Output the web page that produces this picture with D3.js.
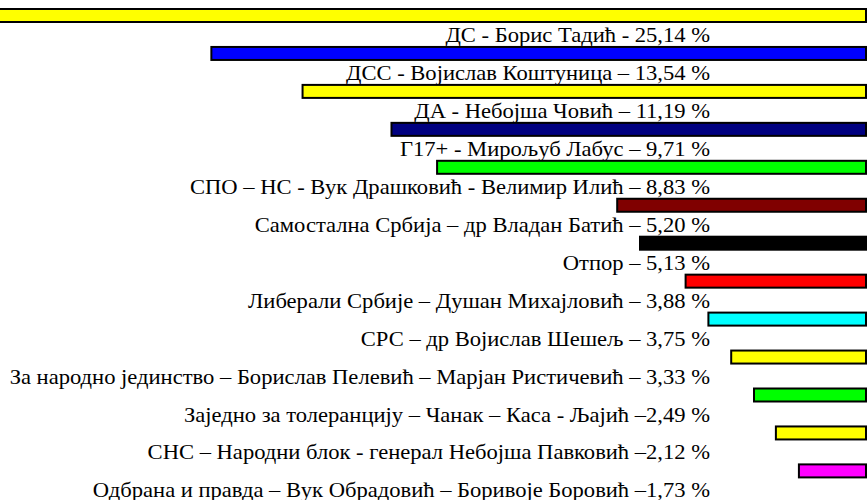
<!DOCTYPE html>
<html>
<head>
<meta charset="utf-8">
<script src="https://cdn.jsdelivr.net/npm/d3@7"></script>
<style>
  html, body { margin: 0; padding: 0; background: #fff; overflow: hidden; }
  svg { display: block; }
  text.lbl { font-family: "Liberation Serif", "DejaVu Serif", serif; }
</style>
</head>
<body>
<svg id="chart" width="867" height="500"></svg>
<script>
// Labels shown beneath each bar (the first bar's own caption lies above the visible area)
const labels = [
  "ДС - Борис Тадић - 25,14 %",
  "ДСС - Војислав Коштуница – 13,54 %",
  "ДА - Небојша Човић – 11,19 %",
  "Г17+ - Мирољуб Лабус – 9,71 %",
  "СПО – НС - Вук Драшковић - Велимир Илић – 8,83 %",
  "Самостална Србија – др Владан Батић – 5,20 %",
  "Отпор – 5,13 %",
  "Либерали Србије – Душан Михајловић – 3,88 %",
  "СРС – др Војислав Шешељ – 3,75 %",
  "За народно јединство – Борислав Пелевић – Марјан Ристичевић – 3,33 %",
  "Заједно за толеранцију – Чанак – Каса - Љајић –2,49 %",
  "СНС – Народни блок - генерал Небојша Павковић –2,12 %",
  "Одбрана и правда – Вук Обрадовић – Боривоје Боровић –1,73 %"
];
// Bar lengths (relative units)
const barLengths = [40, 28.8, 24.8, 20.9, 18.9, 11, 10, 8, 7, 6, 5, 4.04, 3.03];
const barColors = ["#ffff00", "#0000ff", "#ffff00", "#000080", "#00ff00", "#800000",
                   "#000000", "#ff0000", "#00ffff", "#ffff00", "#00ff00", "#ffff00", "#ff00ff"];

const svg = d3.select("#chart");
const rightEdge = 866;
const labelRight = 710;

const x = d3.scaleLinear().domain([0, 38]).range([0, 866.4]);
const y = d3.scalePoint().domain(d3.range(labels.length)).range([8, 463.4]);
const barH = 15;

const rows = svg.selectAll("g.row").data(labels.map((l, i) => ({label: l, len: barLengths[i], color: barColors[i], i})))
  .enter().append("g").attr("class", "row");

rows.append("rect")
  .attr("x", d => rightEdge + 1 - x(d.len) + 1)
  .attr("y", d => y(d.i) + 1)
  .attr("width", d => x(d.len) - 2)
  .attr("height", barH - 2)
  .attr("fill", d => d.color)
  .attr("stroke", "#000")
  .attr("stroke-width", 2);

rows.append("g")
  .attr("transform", d => `translate(${labelRight},${y(d.i) + 34}) scale(1.05,1)`)
  .append("text")
  .attr("class", "lbl")
  .attr("x", 0)
  .attr("y", 0)
  .attr("text-anchor", "end")
  .attr("font-size", 21.5)
  .attr("fill", "#000")
  .text(d => d.label);
</script>
</body>
</html>
